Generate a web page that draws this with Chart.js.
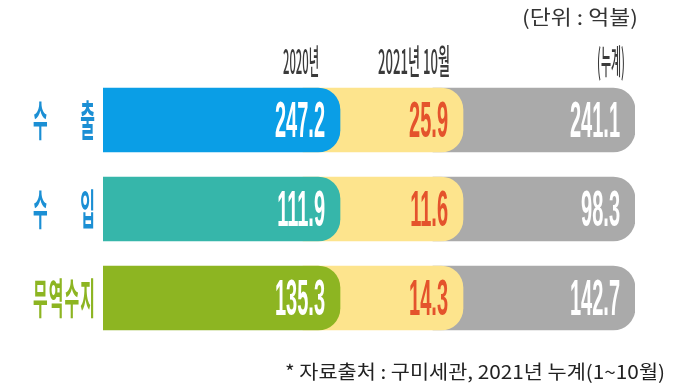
<!DOCTYPE html>
<html>
<head>
<meta charset="utf-8">
<script src="https://cdn.jsdelivr.net/npm/chart.js@4"></script>
<style>
  html, body { margin: 0; padding: 0; background: #fff; }
  #wrap { width: 680px; height: 391px; position: relative; }
</style>
</head>
<body>
<div id="wrap"><canvas id="chart"></canvas></div>
<script>
// data (단위: 억불)
const categories = ["수 출", "수 입", "무역수지"];
const y2020 = [247.2, 111.9, 135.3];
const oct2021 = [25.9, 11.6, 14.3];
const cum2021 = [241.1, 98.3, 142.7];
const columnLabels = ["2020년", "2021년 10월", "(누계)"];
const unitLabel = "(단위 : 억불)";
const sourceNote = "* 자료출처 : 구미세관, 2021년 누계(1~10월)";

// layout: every row is the same three rounded pills, not proportional to the values
const SEGMENTS = [[0, 237], [200, 360], [330, 532]];
const catColors = ["#0a9ee6", "#36b6aa", "#8db522"];
const labelColors = ["#1b8fd4", "#1b8fd4", "#8db522"];
const YELLOW = "#fde48d";
const GRAY = "#aaaaaa";
const RADIUS = { topLeft: 0, bottomLeft: 0, topRight: 22, bottomRight: 22 };

function squeezeText(ctx, text, x, y, font, color, sx, align, baseline) {
  ctx.save();
  ctx.font = font;
  ctx.fillStyle = color;
  ctx.textAlign = align;
  ctx.textBaseline = baseline || "alphabetic";
  ctx.translate(x, y);
  ctx.scale(sx, 1);
  ctx.fillText(text, 0, 0);
  ctx.restore();
}

function fitText(ctx, text, xRight, y, font, color, width) {
  ctx.save();
  ctx.font = font;
  const w = ctx.measureText(text).width;
  ctx.restore();
  squeezeText(ctx, text, xRight, y, font, color, width / w, "right", "middle");
}

const textPlugin = {
  id: "texts",
  afterDatasetsDraw(chart) {
    const ctx = chart.ctx;
    const metas = [0, 1, 2].map(i => chart.getDatasetMeta(i));
    const series = [y2020, oct2021, cum2021];
    const valueColors = ["#ffffff", "#e4532c", "#ffffff"];
    const valueFont = 'bold 50px "Liberation Sans"';

    metas.forEach((meta, d) => {
      meta.data.forEach((bar, i) => {
        squeezeText(ctx, series[d][i].toFixed(1), bar.x - 15, bar.y + 17,
          valueFont, valueColors[d], 0.40, "right");
      });
    });

    // column headers, above the first row
    const top = metas[0].data[0];
    const headerRight = [metas[0].data[0].x - 21, metas[1].data[0].x - 13, metas[2].data[0].x - 10];
    const headerWidth = [36, 72, 28];
    columnLabels.forEach((t, i) => {
      fitText(ctx, t, headerRight[i], top.y - 59, '500 34px "Noto Sans CJK KR"', "#3a3a3a", headerWidth[i]);
    });

    // category labels, justified left of the bars
    const left = 33, right = chart.chartArea.left - 8;
    const sx = 0.38;
    ctx.save();
    ctx.font = 'bold 42px "Noto Sans CJK KR"';
    metas[0].data.forEach((bar, i) => {
      const chars = categories[i].replace(/\s/g, "").split("");
      const widths = chars.map(c => ctx.measureText(c).width * sx);
      const total = widths.reduce((a, b) => a + b, 0);
      const gap = chars.length > 1 ? (right - left - total) / (chars.length - 1) : 0;
      let x = left;
      chars.forEach((c, k) => {
        squeezeText(ctx, c, x, bar.y, ctx.font, labelColors[i], sx, "left", "middle");
        x += widths[k] + gap;
      });
    });
    ctx.restore();

    fitText(ctx, unitLabel, 638, 17, '20px "Noto Sans CJK KR"', "#333333", 116);
    fitText(ctx, sourceNote, 665, 372, '19px "Noto Sans CJK KR"', "#222222", 380);
  }
};

const common = { borderRadius: RADIUS, borderSkipped: false, barThickness: 64, grouped: false };

new Chart(document.getElementById("chart").getContext("2d"), {
  type: "bar",
  data: {
    labels: categories,
    datasets: [
      { label: columnLabels[0], data: categories.map(() => SEGMENTS[0]), backgroundColor: catColors, ...common },
      { label: columnLabels[1], data: categories.map(() => SEGMENTS[1]), backgroundColor: YELLOW, ...common },
      { label: columnLabels[2], data: categories.map(() => SEGMENTS[2]), backgroundColor: GRAY, ...common },
    ],
  },
  options: {
    indexAxis: "y",
    responsive: true,
    maintainAspectRatio: false,
    animation: false,
    layout: { padding: { left: 103, right: 45, top: 75.5, bottom: 48.5 } },
    scales: {
      x: { display: false, min: 0, max: 532 },
      y: { display: false, grid: { display: false } },
    },
    plugins: {
      legend: { display: false },
      tooltip: { enabled: false },
    },
  },
  plugins: [textPlugin],
});
</script>
</body>
</html>
